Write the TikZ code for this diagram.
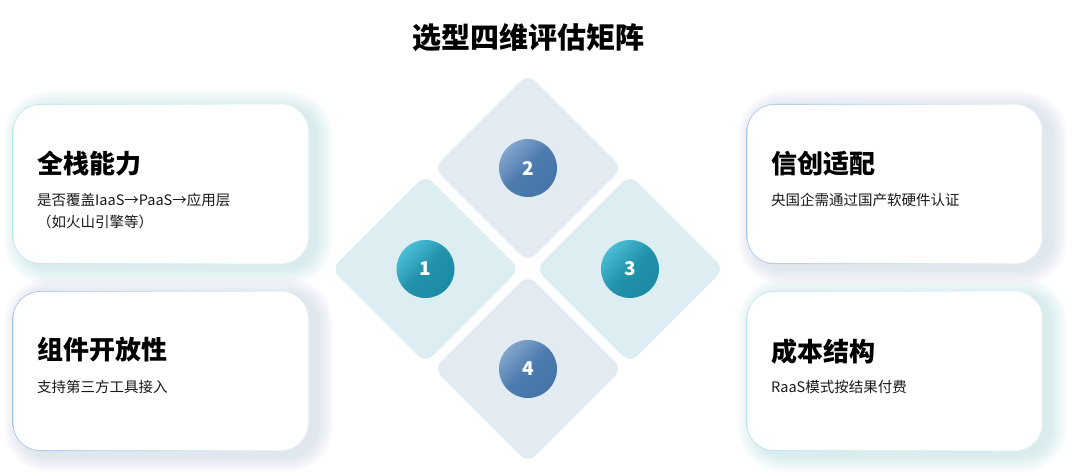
\documentclass[tikz,border=0pt]{standalone}
\usepackage{fontspec}
\setmainfont{Noto Sans CJK SC}
\usetikzlibrary{calc}
\definecolor{bcyan}{HTML}{BCE4EE}
\definecolor{bblue}{HTML}{A6C3E4}
\definecolor{scyan}{HTML}{B8DDE6}
\definecolor{sblue}{HTML}{C4D3E9}
\definecolor{dcyan}{HTML}{DCEEF2}
\definecolor{dblue}{HTML}{E2EAF2}
\definecolor{tealA}{HTML}{4ABDD4}
\definecolor{tealB}{HTML}{1A8BA2}
\definecolor{blueA}{HTML}{82A5CB}
\definecolor{blueB}{HTML}{4474A9}
\definecolor{txt}{HTML}{1A1A1A}
\tikzset{
  cardouter/.style={rectangle, minimum width=296pt, minimum height=160pt, inner sep=0pt, outer sep=0pt, rounded corners=28pt},
  cardinner/.style={rectangle, minimum width=294.4pt, minimum height=158.4pt, inner sep=0pt, outer sep=0pt, rounded corners=27.2pt, fill=white},
  cardtitle/.style={anchor=west, inner sep=0pt, text=black, font=\fontsize{26}{30}\selectfont\bfseries},
  cardsub/.style={anchor=west, inner sep=0pt, text=txt, font=\fontsize{14.5}{18}\selectfont},
  dmd/.style={rectangle, minimum size=133pt, inner sep=0pt, rotate=45, rounded corners=10pt},
  num/.style={circle, minimum size=58pt, inner sep=0pt, text=white, font=\fontsize{19}{22}\selectfont\bfseries, shading angle=45},
}
% #1 name, #2 cx, #3 cy, #4 border colour, #5 shadow colour
\newcommand\mycard[5]{%
  \foreach \i in {1,...,17}{%
    \pgfmathsetmacro\rr{28+\i}%
    \fill[#5, opacity=0.033, rounded corners=\rr pt] (#2-148-\i+8, #3-80-\i+4) rectangle (#2+148+\i+8, #3+80+\i+4);
  }%
  \node (#1) [cardouter, left color=#4, right color=#4!12] at (#2,#3) {};
  \node (#1in) [cardinner] at (#1) {};
}
\begin{document}
\begin{tikzpicture}[x=1pt,y=-1pt]
\useasboundingbox (0,0) rectangle (1080,476);
\fill[white] (0,0) rectangle (1080,476);

\node (title) [inner sep=0pt, font=\fontsize{29}{34}\selectfont\bfseries] at (528,38) {选型四维评估矩阵};

% cards
\mycard{c1}{160.5}{184}{bcyan}{scyan}
\mycard{c3}{160.5}{371}{bblue}{sblue}
\mycard{c2}{894.5}{184}{bblue}{sblue}
\mycard{c4}{894.5}{371}{bcyan}{scyan}

\node (c1t) [cardtitle] at (37,164) {全栈能力};
\node (c1s) [cardsub] at (37,200) {是否覆盖IaaS→PaaS→应用层};
\node (c1s2) [cardsub] at (37,222) {（如火山引擎等）};

\node (c3t) [cardtitle] at (37,350) {组件开放性};
\node (c3s) [cardsub] at (37,387) {支持第三方工具接入};

\node (c2t) [cardtitle] at (771,164) {信创适配};
\node (c2s) [cardsub] at (771,200) {央国企需通过国产软硬件认证};

\node (c4t) [cardtitle] at (771,352) {成本结构};
\node (c4s) [cardsub] at (771,387) {RaaS模式按结果付费};

% diamonds
\node (d2) [dmd, fill=dblue] at (528,168) {};
\node (d1) [dmd, fill=dcyan] at (425.5,269) {};
\node (d3) [dmd, fill=dcyan] at (630,269) {};
\node (d4) [dmd, fill=dblue] at (528,369) {};

\node (n1) [num, top color=tealA, bottom color=tealB, middle color=tealB!85!tealA, shading angle=45] at (d1) {1};
\node (n2) [num, top color=blueA, bottom color=blueB, middle color=blueB!85!blueA, shading angle=45] at (d2) {2};
\node (n3) [num, top color=tealA, bottom color=tealB, middle color=tealB!85!tealA, shading angle=45] at (d3) {3};
\node (n4) [num, top color=blueA, bottom color=blueB, middle color=blueB!85!blueA, shading angle=45] at (d4) {4};
\end{tikzpicture}
\end{document}
